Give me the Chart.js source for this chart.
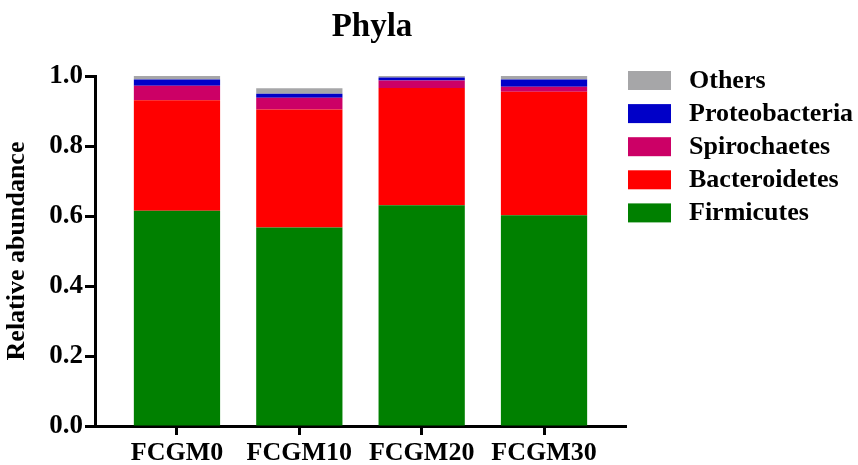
<!DOCTYPE html>
<html>
<head>
<meta charset="utf-8">
<title>Phyla</title>
<script src="https://cdn.jsdelivr.net/npm/chart.js@4.4.1/dist/chart.umd.min.js"></script>
<style>
  html, body { margin: 0; padding: 0; background: #fff; }
  #wrap { position: relative; width: 858px; height: 465px; }
</style>
</head>
<body>
<div id="wrap"><canvas id="phylaChart"></canvas></div>
<script>
// data
const categories = ['FCGM0', 'FCGM10', 'FCGM20', 'FCGM30'];
const firmicutes = [0.615, 0.567, 0.631, 0.602];
const bacteroidetes = [0.316, 0.337, 0.335, 0.353];
const spirochaetes = [0.041, 0.034, 0.021, 0.014];
const proteobacteria = [0.018, 0.011, 0.009, 0.021];
const others = [0.010, 0.016, 0.004, 0.010];
const yTicks = [0, 0.2, 0.4, 0.6, 0.8, 1.0];

const serif = '"Liberation Serif", "Times New Roman", serif';

function toPoints(values) {
    return values.map((v, i) => ({ x: i, y: v }));
}

// title + legend drawn on top (legend order is reversed, like the stack)
const overlay = {
    id: 'overlay',
    afterDraw(chart) {
        const ctx = chart.ctx;
        ctx.save();
        ctx.fillStyle = '#000';
        ctx.font = 'bold 33px ' + serif;
        ctx.textAlign = 'center';
        ctx.textBaseline = 'alphabetic';
        ctx.fillText('Phyla', 372, 36);

        ctx.font = 'bold 26px ' + serif;
        const items = chart.data.datasets.slice().reverse();
        items.forEach((d, i) => {
            const y = 71 + i * 33.1;
            ctx.fillStyle = d.backgroundColor;
            ctx.fillRect(628, y, 43, 19);
            ctx.fillStyle = '#000';
            ctx.textAlign = 'left';
            ctx.textBaseline = 'middle';
            ctx.fillText(d.label, 689, y + 10);
        });
        ctx.restore();
    }
};

const ctx = document.getElementById('phylaChart').getContext('2d');
const chart = new Chart(ctx, {
    type: 'bar',
    data: {
        datasets: [
            { label: 'Firmicutes', data: toPoints(firmicutes), backgroundColor: '#008000' },
            { label: 'Bacteroidetes', data: toPoints(bacteroidetes), backgroundColor: '#ff0000' },
            { label: 'Spirochaetes', data: toPoints(spirochaetes), backgroundColor: '#cc0066' },
            { label: 'Proteobacteria', data: toPoints(proteobacteria), backgroundColor: '#0000c8' },
            { label: 'Others', data: toPoints(others), backgroundColor: '#a6a6a8' }
        ]
    },
    options: {
        responsive: true,
        maintainAspectRatio: false,
        animation: false,
        devicePixelRatio: 1,
        barPercentage: 0.705,
        categoryPercentage: 1,
        layout: {
            padding: { top: 76, right: 232, left: 0, bottom: 0 }
        },
        plugins: {
            legend: { display: false },
            tooltip: { enabled: false }
        },
        scales: {
            x: {
                type: 'linear',
                stacked: true,
                offset: false,
                min: -0.67,
                max: 3.67,
                afterFit: s => { s.height = 39; },
                afterBuildTicks: s => {
                    s.ticks = categories.map((c, i) => ({ value: i }));
                },
                grid: {
                    display: true,
                    offset: false,
                    drawOnChartArea: false,
                    drawTicks: true,
                    tickLength: 9,
                    tickWidth: 3,
                    tickColor: '#000'
                },
                border: { display: true, width: 3, color: '#000' },
                ticks: {
                    includeBounds: false,
                    padding: 3,
                    color: '#000',
                    font: { family: serif, size: 26, weight: 'bold' },
                    callback: v => categories[v] ?? ''
                }
            },
            y: {
                stacked: true,
                min: 0,
                max: 1,
                afterFit: s => { s.width = 95; },
                afterBuildTicks: s => {
                    s.ticks = yTicks.map(v => ({ value: v }));
                },
                grid: {
                    display: true,
                    drawOnChartArea: false,
                    drawTicks: true,
                    tickLength: 10,
                    tickWidth: 3,
                    tickColor: '#000'
                },
                border: { display: true, width: 3, color: '#000' },
                ticks: {
                    padding: 2,
                    color: '#000',
                    font: { family: serif, size: 27, weight: 'bold' },
                    callback: v => Number(v).toFixed(1)
                },
                title: {
                    display: true,
                    text: 'Relative abundance',
                    color: '#000',
                    padding: { top: 2, bottom: 0 },
                    font: { family: serif, size: 26, weight: 'bold' }
                }
            }
        }
    },
    plugins: [overlay]
});
</script>
</body>
</html>
